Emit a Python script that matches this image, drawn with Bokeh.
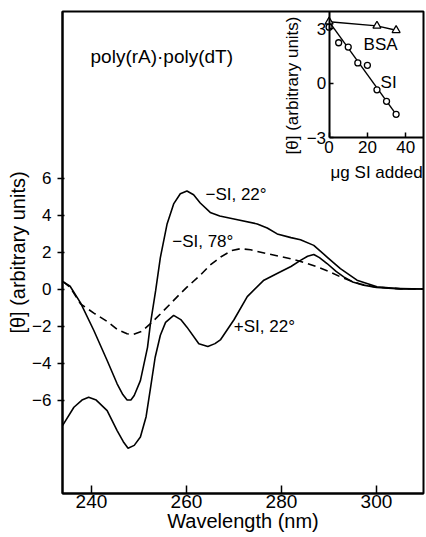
import math
from bokeh.plotting import figure
from bokeh.models import Range1d, LinearAxis, FixedTicker, Label
from bokeh.embed import file_html
from bokeh.resources import INLINE

FONT = "Liberation Sans"

# ---- main panel data: CD spectra of poly(rA).poly(dT) ----
wl_minus_22 = [234.0, 235.5, 237.7, 240.5, 243.3, 245.4, 246.6, 247.5, 248.3, 249.0,
               250.3, 251.8, 252.4, 253.5, 254.5, 255.9, 257.3, 258.7, 260.1, 261.5,
               262.9, 265.0, 267.0, 270.0, 274.9, 277.0, 279.1, 282.0, 284.0, 286.8,
               289.6, 292.4, 295.9, 300.1, 305.0, 310.0]
theta_minus_22 = [0.40, 0.15, -0.75, -2.24, -3.86, -5.12, -5.70, -6.00, -6.00, -5.75,
                  -4.95, -3.15, -1.90, -0.10, 1.70, 3.50, 4.60, 5.15, 5.30, 5.10,
                  4.65, 4.14, 3.95, 3.79, 3.52, 3.30, 2.98, 2.78, 2.66, 2.36,
                  1.73, 1.10, 0.48, 0.12, 0.02, 0.00]

wl_minus_78 = [234.0, 235.5, 237.7, 240.5, 243.3, 245.5, 247.5, 248.9, 250.5, 252.3,
               254.5, 256.6, 258.5, 260.1, 262.9, 265.0, 267.2, 269.5, 271.4, 273.5,
               277.0, 281.9, 285.0, 287.5, 290.0, 292.4, 294.5, 296.6, 300.0, 305.0,
               310.0]
theta_minus_78 = [0.40, 0.10, -0.80, -1.30, -1.75, -2.20, -2.42, -2.45, -2.30, -1.90,
                  -1.35, -0.80, -0.30, 0.10, 0.75, 1.30, 1.73, 2.08, 2.18, 2.12,
                  1.91, 1.64, 1.42, 1.20, 0.95, 0.66, 0.45, 0.27, 0.10, 0.02,
                  0.00]

wl_plus_22 = [233.9, 236.3, 238.0, 239.4, 241.0, 243.3, 245.4, 246.7, 247.7, 249.0,
              250.3, 251.5, 252.4, 253.4, 254.5, 255.6, 257.3, 258.8, 260.1, 262.6,
              264.5, 266.0, 267.2, 270.0, 272.8, 276.3, 279.8, 282.0, 284.0, 285.5,
              286.8, 288.0, 289.6, 291.5, 293.1, 295.0, 297.3, 300.0, 305.0, 310.0]
theta_plus_22 = [-7.38, -6.39, -6.00, -5.85, -6.00, -6.57, -7.65, -8.25, -8.60, -8.45,
                 -8.00, -6.90, -5.40, -3.70, -2.50, -1.80, -1.42, -1.65, -2.06, -2.96,
                 -3.10, -2.95, -2.73, -1.66, -0.41, 0.48, 0.93, 1.22, 1.55, 1.77,
                 1.87, 1.70, 1.38, 0.95, 0.66, 0.38, 0.21, 0.08, 0.01, 0.00]

x_ticks = [240, 260, 280, 300]
y_ticks = [-6, -4, -2, 0, 2, 4, 6]
y_tick_labels = ["\u22126", "\u22124", "\u22122", "0", "2", "4", "6"]

# ---- inset data ----
si_ug = [0, 5, 10, 15, 20, 25, 30, 35]
si_theta = [3.10, 2.24, 2.00, 1.13, 1.00, -0.35, -0.98, -1.70]
si_fit_ug = [0, 35]
si_fit_theta = [3.40, -1.70]
bsa_ug = [0, 25, 35]
bsa_theta = [3.40, 3.17, 2.93]
inset_x_ticks = [0, 20, 40]
inset_y_ticks = [-3, 0, 3]
inset_y_tick_labels = ["\u22123", "0", "3"]

p = figure(width=426, height=537,
           x_range=Range1d(233.9, 309.9), y_range=Range1d(-11.05, 15.0),
           output_backend="svg", toolbar_location=None,
           min_border_left=62, min_border_right=3, min_border_top=11, min_border_bottom=44)
p.extra_x_ranges = {"ix": Range1d(-139.2, 49.3)}
p.extra_y_ranges = {"iy": Range1d(-22.56, 3.96)}

p.grid.visible = False
p.background_fill_color = "white"
p.border_fill_color = "white"
p.outline_line_color = "black"
p.outline_line_width = 2

xa = p.xaxis[0]
xa.ticker = FixedTicker(ticks=x_ticks)
xa.axis_line_width = 2
xa.major_tick_line_width = 1.5
xa.major_tick_in = 8
xa.major_tick_out = 0
xa.minor_tick_line_color = None
xa.major_label_standoff = 1
xa.major_label_text_font = FONT
xa.major_label_text_font_size = "19px"
xa.major_label_text_color = "black"
xa.axis_label = "Wavelength (nm)"
xa.axis_label_text_font = FONT
xa.axis_label_text_font_size = "20px"
xa.axis_label_text_font_style = "normal"
xa.axis_label_text_color = "black"
xa.axis_label_standoff = -1

ya = p.yaxis[0]
ya.ticker = FixedTicker(ticks=y_ticks)
ya.major_label_overrides = {t: s for t, s in zip(y_ticks, y_tick_labels)}
ya.axis_line_width = 2
ya.major_tick_line_width = 1.5
ya.major_tick_in = 2
ya.major_tick_out = 5
ya.minor_tick_line_color = None
ya.major_label_standoff = 6
ya.major_label_text_font = FONT
ya.major_label_text_font_size = "17px"
ya.major_label_text_color = "black"
ya.axis_label = "[\u03b8] (arbitrary units)"
ya.axis_label_text_font = FONT
ya.axis_label_text_font_size = "20px"
ya.axis_label_text_font_style = "normal"
ya.axis_label_text_color = "black"
ya.axis_label_standoff = 0

# curves
p.line(wl_minus_22, theta_minus_22, line_color="black", line_width=1.6)
p.line(wl_minus_78, theta_minus_78, line_color="black", line_width=1.6, line_dash="8 5")
p.line(wl_plus_22, theta_plus_22, line_color="black", line_width=1.6)

# annotations
p.add_layout(Label(x=239.8, y=12.57, text="poly(rA)\u00b7poly(dT)", text_align="left",
                   text_baseline="middle", text_font=FONT, text_font_size="19px",
                   text_color="black"))
for tx, xx, yy in [("\u2212SI, 22\u00b0", 264.0, 5.11),
                   ("\u2212SI, 78\u00b0", 257.0, 2.59),
                   ("+SI, 22\u00b0", 269.96, -2.03)]:
    p.add_layout(Label(x=xx, y=yy, text=tx, text_align="left", text_baseline="middle",
                       text_font=FONT, text_font_size="17px", text_color="black"))

# ---- inset ----
iya = LinearAxis(x_range_name="ix", y_range_name="iy", fixed_location=0, bounds=(-3, 3.96),
                 ticker=FixedTicker(ticks=inset_y_ticks))
iya.major_label_overrides = {t: s for t, s in zip(inset_y_ticks, inset_y_tick_labels)}
iya.axis_line_width = 2
iya.major_tick_line_width = 1.5
iya.major_tick_in = 4
iya.major_tick_out = 0
iya.minor_tick_line_color = None
iya.major_label_standoff = 3
iya.major_label_text_font = FONT
iya.major_label_text_font_size = "17px"
iya.major_label_text_color = "black"
p.add_layout(iya, "left")

ixa = LinearAxis(x_range_name="ix", y_range_name="iy", fixed_location=-3, bounds=(0, 49.3),
                 ticker=FixedTicker(ticks=inset_x_ticks))
ixa.axis_line_width = 2
ixa.major_tick_line_width = 1.5
ixa.major_tick_in = 5
ixa.major_tick_out = 0
ixa.minor_tick_line_color = None
ixa.major_label_standoff = 3
ixa.major_label_text_font = FONT
ixa.major_label_text_font_size = "17px"
ixa.major_label_text_color = "black"
p.add_layout(ixa, "below")

p.line(si_fit_ug, si_fit_theta, x_range_name="ix", y_range_name="iy",
       line_color="black", line_width=1.4)
p.line(bsa_ug, bsa_theta, x_range_name="ix", y_range_name="iy",
       line_color="black", line_width=1.4)
p.scatter(si_ug, si_theta, x_range_name="ix", y_range_name="iy", marker="circle",
          size=6, fill_color="white", line_color="black", line_width=1.3)
p.scatter(bsa_ug, bsa_theta, x_range_name="ix", y_range_name="iy", marker="triangle",
          size=8, fill_color="white", line_color="black", line_width=1.3)

p.add_layout(Label(x=18.0, y=2.15, x_range_name="ix", y_range_name="iy", text="BSA",
                   text_align="left", text_baseline="middle", text_font=FONT,
                   text_font_size="17px", text_color="black"))
p.add_layout(Label(x=26.9, y=0.08, x_range_name="ix", y_range_name="iy", text="SI",
                   text_align="left", text_baseline="middle", text_font=FONT,
                   text_font_size="17px", text_color="black"))
p.add_layout(Label(x=-19.2, y=-0.11, x_range_name="ix", y_range_name="iy",
                   text="[\u03b8] (arbitrary units)", angle=math.pi / 2,
                   text_align="center", text_baseline="middle", text_font=FONT,
                   text_font_size="17px", text_color="black"))
p.add_layout(Label(x=24.8, y=-4.88, x_range_name="ix", y_range_name="iy",
                   text="\u03bcg SI added", text_align="center",
                   text_baseline="alphabetic", text_font=FONT,
                   text_font_size="17px", text_color="black"))

open("out.html", "w").write(file_html(p, INLINE))
